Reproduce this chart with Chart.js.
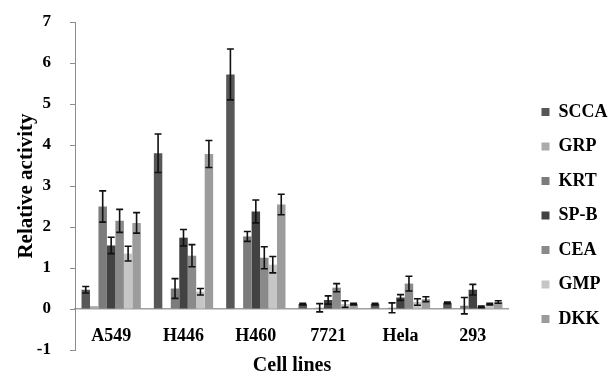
<!DOCTYPE html>
<html>
<head>
<meta charset="utf-8">
<title>Relative activity</title>
<script src="https://cdn.jsdelivr.net/npm/chart.js@4.4.1/dist/chart.umd.min.js"></script>
<style>
  html, body { margin: 0; padding: 0; background: #fff; }
</style>
</head>
<body>
<canvas id="chart" width="610" height="372"></canvas>
<script>
// categories and series
var cellLines = ["A549", "H446", "H460", "7721", "Hela", "293"];
var markers = ["SCCA", "GRP", "KRT", "SP-B", "CEA", "GMP", "DKK"];

var scca = [0.47, 3.80, 5.72, 0.12, 0.12, 0.15];
var grp  = [0.07, 0.00, 0.00, 0.00, 0.02, 0.00];
var krt  = [2.50, 0.50, 1.77, 0.03, 0.03, 0.08];
var spb  = [1.55, 1.74, 2.38, 0.22, 0.28, 0.47];
var cea  = [2.15, 1.30, 1.25, 0.52, 0.62, 0.05];
var gmp  = [1.35, 0.42, 1.08, 0.12, 0.17, 0.12];
var dkk  = [2.10, 3.78, 2.55, 0.12, 0.24, 0.17];

// error bar half-lengths
var sccaErr = [0.08, 0.47, 0.62, 0.02, 0.02, 0.02];
var grpErr  = [0.00, 0.00, 0.00, 0.00, 0.00, 0.00];
var krtErr  = [0.38, 0.24, 0.12, 0.10, 0.12, 0.20];
var spbErr  = [0.20, 0.20, 0.28, 0.10, 0.07, 0.13];
var ceaErr  = [0.28, 0.27, 0.27, 0.10, 0.18, 0.02];
var gmpErr  = [0.18, 0.08, 0.20, 0.08, 0.08, 0.02];
var dkkErr  = [0.25, 0.33, 0.25, 0.02, 0.06, 0.03];

var yTicks = { min: -1, max: 7, step: 1 };

var values = [scca, grp, krt, spb, cea, gmp, dkk];
var errors = [sccaErr, grpErr, krtErr, spbErr, ceaErr, gmpErr, dkkErr];
var colors = ["#575757", "#ababab", "#7c7c7c", "#424242", "#8a8a8a", "#c6c6c6", "#9c9c9c"];

var serif = "'Liberation Serif', 'Times New Roman', serif";

/********************************** error bars *****************************************/
var errorBars = {
    id: "errorBars",
    afterDatasetsDraw: function (chart) {
        var ctx = chart.ctx;
        var y = chart.scales.y;
        ctx.save();
        ctx.strokeStyle = "#111";
        ctx.lineWidth = 1.6;
        chart.data.datasets.forEach(function (ds, i) {
            var meta = chart.getDatasetMeta(i);
            meta.data.forEach(function (bar, j) {
                var e = ds.errors[j];
                if (!e) return;
                var v = ds.data[j];
                var top = y.getPixelForValue(v + e);
                var bot = y.getPixelForValue(v - e);
                var cap = 3.5;
                ctx.beginPath();
                ctx.moveTo(bar.x, top);
                ctx.lineTo(bar.x, bot);
                ctx.moveTo(bar.x - cap, top);
                ctx.lineTo(bar.x + cap, top);
                ctx.moveTo(bar.x - cap, bot);
                ctx.lineTo(bar.x + cap, bot);
                ctx.stroke();
            });
        });
        ctx.restore();
    }
};

/********************************** legend spacing *****************************************/
// legend sits further right than the plot edge
var legendShift = { extra: 8.5, dx: 16, dy: 18.5 };
var legendGap = {
    id: "legendGap",
    beforeLayout: function (chart) {
        var lg = chart.legend;
        if (lg && !lg._gapped) {
            var fit = lg.fit.bind(lg);
            lg.fit = function () {
                fit();
                this.width += legendShift.extra;
            };
            lg._gapped = true;
        }
    },
    afterLayout: function (chart) {
        var lg = chart.legend;
        lg.left += legendShift.dx;
        lg.right += legendShift.dx;
        lg.top += legendShift.dy;
        lg.bottom += legendShift.dy;
    }
};

new Chart(document.getElementById("chart"), {
    type: "bar",
    data: {
        labels: cellLines,
        datasets: markers.map(function (name, i) {
            return {
                label: name,
                data: values[i],
                errors: errors[i],
                backgroundColor: colors[i],
                borderWidth: 0,
                barPercentage: 1,
                categoryPercentage: 0.82
            };
        })
    },
    options: {
        responsive: false,
        animation: false,
        layout: { padding: { top: 22, right: 0, bottom: 0, left: 0 } },
        plugins: {
            tooltip: { enabled: false },
            legend: {
                position: "right",
                labels: {
                    boxWidth: 8,
                    boxHeight: 8,
                    padding: 16.5,
                    color: "#000",
                    font: { family: serif, size: 18, weight: "bold" }
                }
            }
        },
        scales: {
            // category axis drawn along the zero line
            x: {
                position: { y: 0 },
                grid: { display: false, drawTicks: false },
                border: { display: true, color: "#a0a0a0", width: 1.5 },
                ticks: {
                    padding: 17,
                    color: "#000",
                    font: { family: serif, size: 18, weight: "bold" }
                }
            },
            // bottom axis only carries the title
            xTitle: {
                type: "category",
                position: "bottom",
                grid: { display: false, drawTicks: false },
                border: { display: false },
                ticks: { display: false },
                title: {
                    display: true,
                    text: "Cell lines",
                    color: "#000",
                    padding: { top: 0, bottom: -6 },
                    font: { family: serif, size: 20, weight: "bold" }
                },
                afterFit: function (scale) { scale.height = 22; }
            },
            y: {
                min: yTicks.min,
                max: yTicks.max,
                border: { display: true, color: "#8c8c8c", width: 1 },
                grid: {
                    drawOnChartArea: false,
                    tickLength: 5,
                    color: "#8c8c8c"
                },
                ticks: {
                    stepSize: yTicks.step,
                    padding: 19,
                    color: "#000",
                    font: { family: serif, size: 17, weight: "bold" }
                },
                title: {
                    display: true,
                    text: "Relative activity",
                    color: "#000",
                    padding: { top: 14, bottom: 0 },
                    font: { family: serif, size: 21, weight: "bold" }
                },
                afterFit: function (scale) {
                    scale.width = 75;
                    scale.paddingTop = 0;
                    scale.paddingBottom = 0;
                }
            }
        }
    },
    plugins: [errorBars, legendGap]
});
</script>
</body>
</html>
